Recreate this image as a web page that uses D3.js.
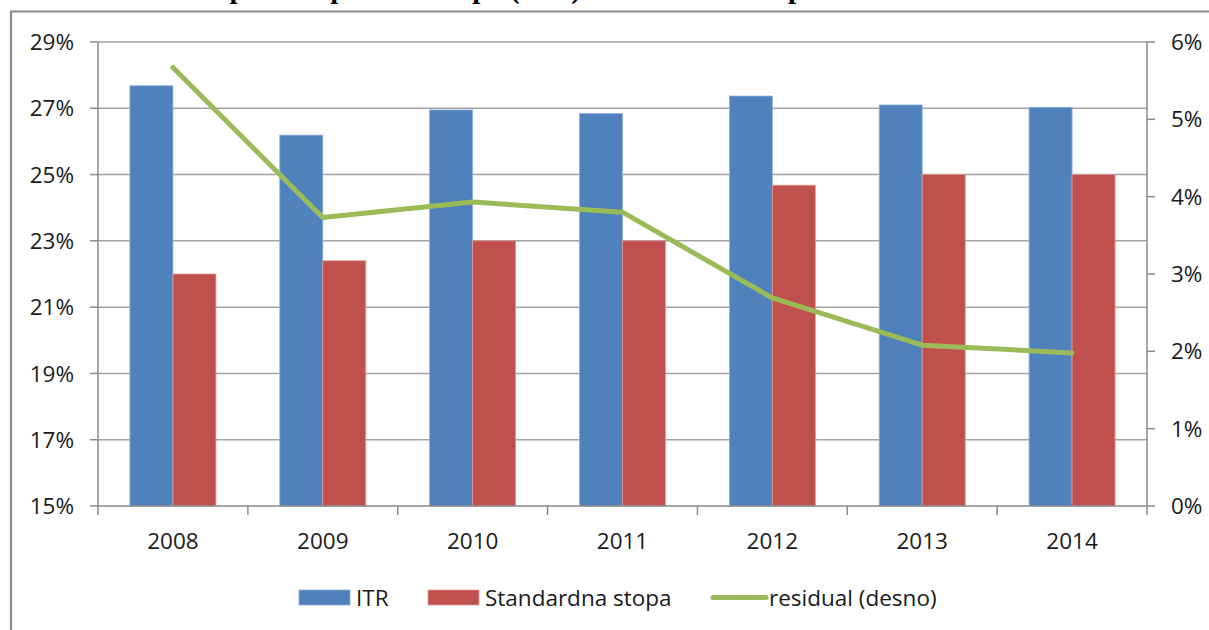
<!DOCTYPE html>
<html>
<head>
<meta charset="utf-8">
<script src="https://cdnjs.cloudflare.com/ajax/libs/d3/7.8.5/d3.min.js"></script>
<style>
  html, body { margin: 0; padding: 0; background: #fff; }
  svg { display: block; }
</style>
</head>
<body>
<svg id="chart" width="1209" height="630"></svg>
<script>
const years = ["2008", "2009", "2010", "2011", "2012", "2013", "2014"];
const itr = [27.68, 26.19, 26.95, 26.84, 27.37, 27.10, 27.03];
const standardna = [22.0, 22.4, 23.0, 23.0, 24.68, 25.0, 25.0];
const residual = [5.67, 3.73, 3.93, 3.80, 2.69, 2.08, 1.98];
const leftTicks = [15, 17, 19, 21, 23, 25, 27, 29];
const rightTicks = [0, 1, 2, 3, 4, 5, 6];
const seriesNames = ["ITR", "Standardna stopa", "residual (desno)"];
const titleText = "Implicitna porezna stopa (ITR) i standardna stopa PDV-a";

const colors = { itr: "#4F81BD", std: "#C0504D", res: "#9BBB59" };
const svg = d3.select("#chart");
const font = "'Open Sans', sans-serif";
const fs = 22.5;

// background
svg.append("rect").attr("width", 1209).attr("height", 630).attr("fill", "#fff");

// cut-off title
svg.append("text")
  .attr("x", 194).attr("y", -2)
  .attr("font-family", "'Liberation Serif', 'Times New Roman', serif")
  .attr("font-weight", "bold")
  .attr("font-size", 29)
  .attr("fill", "#000")
  .text(titleText);

// chart frame
svg.append("path")
  .attr("d", "M11,630 L11,11.5 L1209,11.5")
  .attr("fill", "none").attr("stroke", "#8c8c8c").attr("stroke-width", 2.2);

const L = 98, R = 1147, T = 42, B = 506;

const x = d3.scaleBand().domain(years).range([L, R]).paddingInner(0).paddingOuter(0);
const yL = d3.scaleLinear().domain([15, 29]).range([B, T]);
const yR = d3.scaleLinear().domain([0, 6]).range([B, T]);

const gridColor = "#a3a3a3";

// gridlines
svg.append("g").selectAll("line").data(leftTicks.filter(d => d > 15)).join("line")
  .attr("x1", L).attr("x2", R)
  .attr("y1", d => yL(d)).attr("y2", d => yL(d))
  .attr("stroke", gridColor).attr("stroke-width", 1.5);

// bars
const inner = 43;
const groupOffset = (x.bandwidth() - 2 * inner) / 2;
const bars = svg.append("g");
bars.selectAll("rect.itr").data(years).join("rect")
  .attr("class", "itr")
  .attr("x", d => x(d) + groupOffset)
  .attr("width", inner)
  .attr("y", (d, i) => yL(itr[i]))
  .attr("height", (d, i) => B - yL(itr[i]))
  .attr("fill", colors.itr)
  .attr("stroke", "#8fb0da").attr("stroke-width", 0.8);
bars.selectAll("rect.std").data(years).join("rect")
  .attr("class", "std")
  .attr("x", d => x(d) + groupOffset + inner)
  .attr("width", inner)
  .attr("y", (d, i) => yL(standardna[i]))
  .attr("height", (d, i) => B - yL(standardna[i]))
  .attr("fill", colors.std)
  .attr("stroke", "#e09a98").attr("stroke-width", 0.8);

// axes
const axisColor = "#8a8a8a";
const gAx = svg.append("g").attr("stroke", axisColor).attr("stroke-width", 1.5);
gAx.append("line").attr("x1", L).attr("x2", L).attr("y1", T).attr("y2", B);
gAx.append("line").attr("x1", R).attr("x2", R).attr("y1", T).attr("y2", B);
gAx.append("line").attr("x1", L).attr("x2", R).attr("y1", B).attr("y2", B);
gAx.selectAll("line.lt").data(leftTicks).join("line").attr("class", "lt")
  .attr("x1", L - 8).attr("x2", L).attr("y1", d => yL(d)).attr("y2", d => yL(d));
gAx.selectAll("line.rt").data(rightTicks).join("line").attr("class", "rt")
  .attr("x1", R).attr("x2", R + 8).attr("y1", d => yR(d)).attr("y2", d => yR(d));
const bounds = years.map(d => x(d)).concat([R]);
gAx.selectAll("line.bt").data(bounds).join("line").attr("class", "bt")
  .attr("x1", d => d).attr("x2", d => d).attr("y1", B).attr("y2", B + 9);

// tick labels
const txt = svg.append("g").attr("font-family", font).attr("font-size", fs).attr("fill", "#1a1a1a");
txt.selectAll("text.ll").data(leftTicks).join("text").attr("class", "ll")
  .attr("x", 74).attr("y", d => yL(d)).attr("dy", "0.36em")
  .attr("text-anchor", "end").text(d => d + "%");
txt.selectAll("text.rl").data(rightTicks).join("text").attr("class", "rl")
  .attr("x", 1171).attr("y", d => yR(d)).attr("dy", "0.36em")
  .attr("text-anchor", "start").text(d => d + "%");
txt.selectAll("text.xl").data(years).join("text").attr("class", "xl")
  .attr("x", d => x(d) + x.bandwidth() / 2).attr("y", 549)
  .attr("text-anchor", "middle").text(d => d);

// residual line
const line = d3.line()
  .x((d, i) => x(years[i]) + x.bandwidth() / 2)
  .y(d => yR(d));
svg.append("path").datum(residual)
  .attr("d", line)
  .attr("fill", "none").attr("stroke", colors.res)
  .attr("stroke-width", 5).attr("stroke-linejoin", "round").attr("stroke-linecap", "round");

// legend
const lg = svg.append("g").attr("font-family", font).attr("font-size", fs).attr("fill", "#1a1a1a");
const ly = 597.5;
lg.append("rect").attr("x", 299).attr("y", 590).attr("width", 51).attr("height", 15).attr("fill", colors.itr)
  .attr("stroke", "#8fb0da").attr("stroke-width", 0.8);
lg.append("text").attr("x", 356).attr("y", ly).attr("dy", "0.36em").text(seriesNames[0]);
lg.append("rect").attr("x", 428).attr("y", 590).attr("width", 51).attr("height", 15).attr("fill", colors.std)
  .attr("stroke", "#e09a98").attr("stroke-width", 0.8);
lg.append("text").attr("x", 485).attr("y", ly).attr("dy", "0.36em").text(seriesNames[1]);
lg.append("line").attr("x1", 713).attr("x2", 766).attr("y1", ly).attr("y2", ly)
  .attr("stroke", colors.res).attr("stroke-width", 5).attr("stroke-linecap", "round");
lg.append("text").attr("x", 769).attr("y", ly).attr("dy", "0.36em").text(seriesNames[2]);
</script>
</body>
</html>
